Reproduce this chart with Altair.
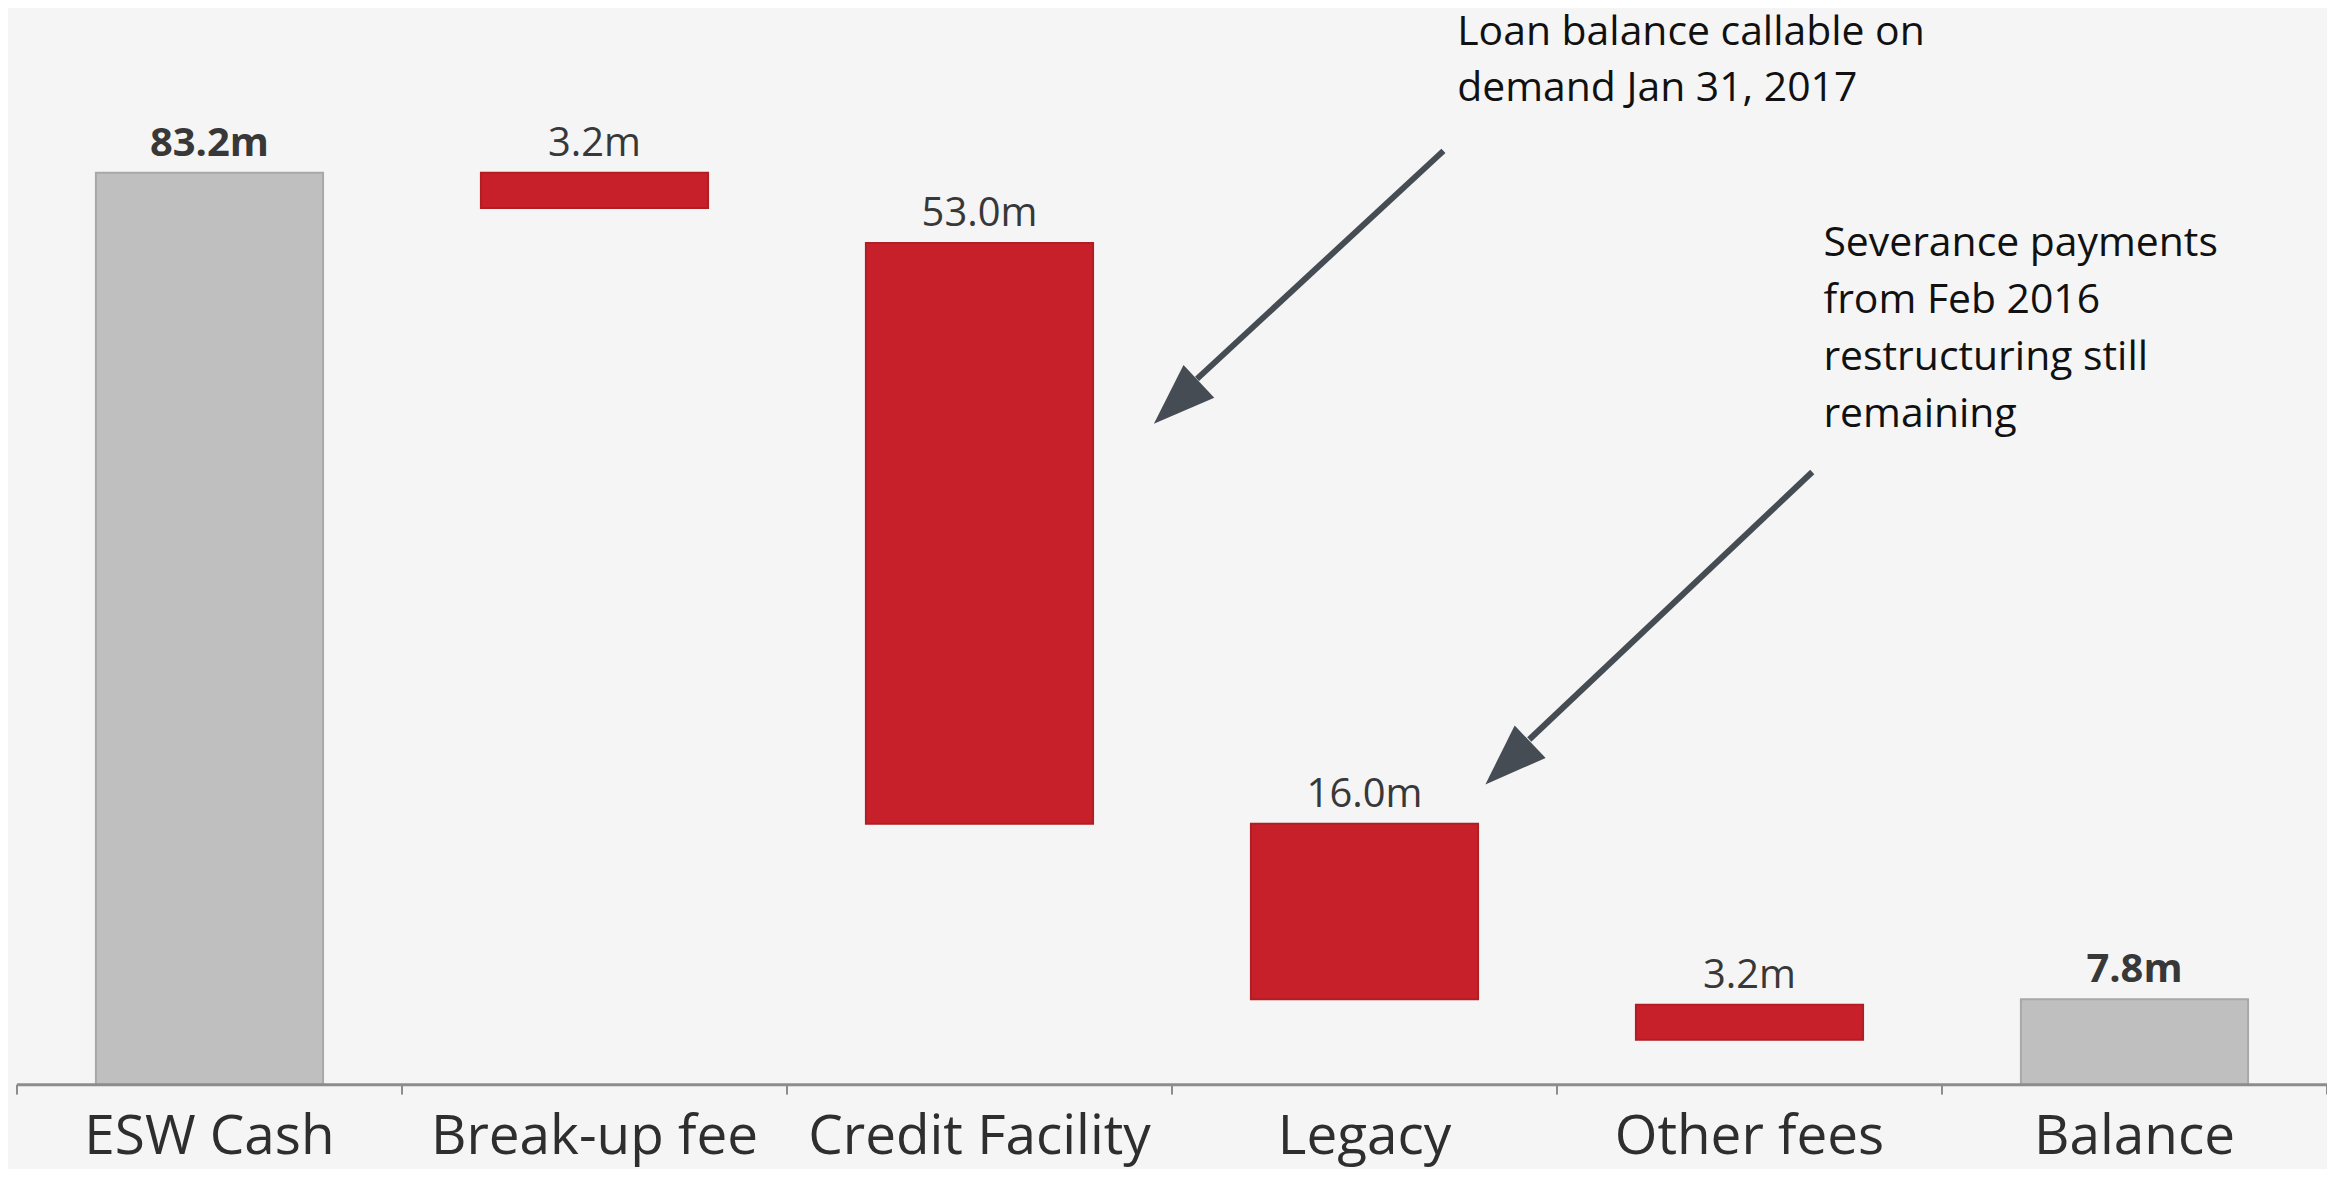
import altair as alt
import pandas as pd

# ---- data ----
categories = ["ESW Cash", "Break-up fee", "Credit Facility", "Legacy", "Other fees", "Balance"]
bar_start = [0.0, 80.0, 23.8, 7.8, 4.1, 0.0]
bar_end = [83.2, 83.2, 76.8, 23.8, 7.3, 7.8]
value_labels = ["83.2m", "3.2m", "53.0m", "16.0m", "3.2m", "7.8m"]
bar_kind = ["total", "change", "change", "change", "change", "total"]

# annotations (x in category units 0..6, y in $m)
note_text = ["Loan balance callable on\ndemand Jan 31, 2017",
             "Severance payments\nfrom Feb 2016\nrestructuring still\nremaining"]
note_x = [3.741, 4.692]
note_y = [94.9, 75.6]

arrow_x_start = [3.705, 4.663]
arrow_y_start = [85.2, 55.9]
arrow_x_joint = [3.065, 3.928]
arrow_y_joint = [64.4, 31.5]
arrow_x_tip = [2.953, 3.814]
arrow_y_tip = [60.3, 27.4]
arrow_angle = [226.7, 226.4]

tick_pos = list(range(len(categories) + 1))

W, H = 2316, 1078
YMAX = 98.1
LABEL_Y = -6.3     # baseline of the category labels, below the zero line
TICK_Y = -0.9      # length of the category separator ticks

bars_df = pd.DataFrame({"category": categories, "start": bar_start, "end": bar_end,
                        "label": value_labels, "kind": bar_kind,
                        "label_y": [LABEL_Y] * len(categories)})
notes_df = pd.DataFrame({"u": note_x, "v": note_y, "text": note_text})
arrows_df = pd.DataFrame({"u0": arrow_x_start, "v0": arrow_y_start,
                          "u1": arrow_x_joint, "v1": arrow_y_joint,
                          "ut": arrow_x_tip, "vt": arrow_y_tip, "ang": arrow_angle})
ticks_df = pd.DataFrame({"u": tick_pos, "v0": [0.0] * len(tick_pos), "v1": [TICK_Y] * len(tick_pos)})
domain_df = pd.DataFrame({"u0": [0], "u1": [len(categories)], "v": [0.0]})

y_scale = alt.Scale(domain=[0, YMAX], nice=False, zero=False)
band_scale = alt.Scale(paddingInner=0.41, paddingOuter=0.205)
u_scale = alt.Scale(domain=[0, len(categories)], nice=False, zero=False)

AXIS_GREY = "#8c8c8c"
ARROW = "#454c54"

x_band = alt.X("category:N", sort=categories, scale=band_scale, axis=None)

bars = alt.Chart(bars_df).mark_bar(strokeWidth=2).encode(
    x=x_band,
    y=alt.Y("start:Q", scale=y_scale, axis=None),
    y2="end:Q",
    color=alt.Color("kind:N", scale=alt.Scale(domain=["total", "change"],
                                               range=["#bfbfbf", "#c8202a"]), legend=None),
    stroke=alt.Stroke("kind:N", scale=alt.Scale(domain=["total", "change"],
                                                 range=["#a8a8a8", "#b01e24"]), legend=None),
)

def value_text(kind, weight):
    return alt.Chart(bars_df).transform_filter(alt.datum.kind == kind).mark_text(
        baseline="alphabetic", dy=-17, fontSize=40, font="Open Sans",
        fontWeight=weight, color="#383838"
    ).encode(
        x=x_band,
        y=alt.Y("end:Q", scale=y_scale, axis=None),
        text="label:N",
    )

cat_labels = alt.Chart(bars_df).mark_text(
    baseline="alphabetic", fontSize=55, font="Open Sans", color="#2e2e2e"
).encode(
    x=x_band,
    y=alt.Y("label_y:Q", scale=y_scale, axis=None),
    text="category:N",
)

ticks = alt.Chart(ticks_df).mark_rule(color=AXIS_GREY, strokeWidth=2).encode(
    x=alt.X("u:Q", scale=u_scale, axis=None),
    y=alt.Y("v0:Q", scale=y_scale, axis=None),
    y2="v1:Q",
)

domain_line = alt.Chart(domain_df).mark_rule(color=AXIS_GREY, strokeWidth=3).encode(
    x=alt.X("u0:Q", scale=u_scale, axis=None),
    x2="u1:Q",
    y=alt.Y("v:Q", scale=y_scale, axis=None),
)

arrow_lines = alt.Chart(arrows_df).mark_rule(color=ARROW, strokeWidth=6, strokeCap="butt").encode(
    x=alt.X("u0:Q", scale=u_scale, axis=None),
    y=alt.Y("v0:Q", scale=y_scale, axis=None),
    x2="u1:Q",
    y2="v1:Q",
)

arrow_heads = alt.Chart(arrows_df).mark_point(
    shape="M0,0L0.726,2L-0.726,2Z", size=3844, filled=True, color=ARROW,
    opacity=1, strokeWidth=0
).encode(
    x=alt.X("ut:Q", scale=u_scale, axis=None),
    y=alt.Y("vt:Q", scale=y_scale, axis=None),
    angle=alt.Angle("ang:Q", scale=None),
)

notes = alt.Chart(notes_df).mark_text(
    align="left", baseline="alphabetic", fontSize=41, font="Open Sans",
    lineBreak="\n", lineHeight=57, color="#111111"
).encode(
    x=alt.X("u:Q", scale=u_scale, axis=None),
    y=alt.Y("v:Q", scale=y_scale, axis=None),
    text="text:N",
)

band_layer = alt.layer(bars, value_text("total", "bold"), value_text("change", "normal"), cat_labels)
anno_layer = alt.layer(domain_line, ticks, arrow_lines, arrow_heads, notes)

chart = alt.layer(band_layer, anno_layer).resolve_scale(x="independent").properties(
    width=W, height=H,
    autosize=alt.AutoSizeParams(type="none"),
    padding={"left": 9, "top": 0, "right": 0, "bottom": 83},
    background="#f5f5f5",
).configure_view(stroke=None)

chart.save("out.html", embed_options={"renderer": "svg", "actions": False})
